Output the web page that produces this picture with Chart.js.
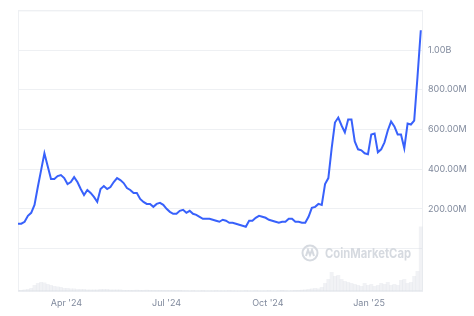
<!DOCTYPE html>
<html>
<head>
<meta charset="utf-8">
<script src="https://cdn.jsdelivr.net/npm/chart.js@4.4.1/dist/chart.umd.min.js"></script>
<style>
  html, body { margin: 0; background: #fff; }
  #wrap { width: 474px; height: 316px; }
</style>
</head>
<body>
<div id="wrap"><canvas id="chart"></canvas></div>
<script>
// price in millions USD, one reading every 3 days starting 17 Feb 2024
const price = [
  125,125,135,165,180,220,310,395,480,415,
  350,350,365,370,355,325,335,360,335,300,
  270,295,280,260,235,300,315,300,310,335,
  355,345,330,305,295,280,280,250,235,225,
  225,210,225,230,220,200,185,175,175,190,
  195,180,190,175,170,160,150,150,150,145,
  140,135,145,140,130,130,125,120,115,110,
  140,140,155,165,160,155,145,140,135,130,
  135,135,150,150,135,135,130,130,160,205,
  210,225,220,325,355,505,635,660,620,585,
  650,650,540,500,495,480,475,575,580,485,
  500,535,595,640,615,575,575,505,630,625,
  645,865,1100
];

// volume (millions USD), same dates
const volume = [
  10,10,15,20,30,
  60,80,90,85,70,60,50,45,40,30,
  30,25,25,20,20,20,15,15,15,15,
  20,20,20,15,15,15,15,10,10,10,
  10,12,10,10,12,10,10,10,8,8,8,8,8,8,8,
  6,6,5,6,5,5,6,5,5,5,6,5,5,5,6,5,5,5,5,6,5,5,6,5,5,5,6,5,5,6,8,6,5,6,8,
  10,12,15,20,25,30,25,40,
  80,120,190,150,160,120,100,
  90,80,70,60,50,80,60,70,50,60,
  80,70,90,60,70,60,110,120,80,90,150,
  200,650
];

const stepDays = 3;
const xTickDays = [44, 135, 227, 319];
const xTickLabels = ["Apr '24", "Jul '24", "Oct '24", "Jan '25"];
const yTicks = [200, 400, 600, 800, 1000];

const pricePoints = price.map((v, i) => ({ x: i * stepDays, y: v * 1e6 }));
const volumePoints = volume.map((v, i) => ({ x: i * stepDays, y: v * 1e6 }));

const fontFamily = 'Inter, "Noto Sans", sans-serif';
const gridColor = '#eef0f3';

const frame = {
  id: 'frame',
  beforeDatasetsDraw(chart) {
    const { ctx, chartArea: a } = chart;
    ctx.save();
    ctx.strokeStyle = gridColor;
    ctx.lineWidth = 1;
    ctx.strokeRect(a.left + 0.5, a.top + 0.5, a.right - a.left - 1, a.bottom - a.top - 1);

    // watermark
    const cx = 310, cy = 253;
    ctx.strokeStyle = '#d6dae0';
    ctx.lineWidth = 2;
    ctx.beginPath();
    ctx.arc(cx, cy, 7.5, 0, Math.PI * 2);
    ctx.stroke();
    ctx.beginPath();
    ctx.moveTo(cx - 4, cy + 3);
    ctx.lineTo(cx - 2, cy - 3);
    ctx.lineTo(cx, cy + 2);
    ctx.lineTo(cx + 2, cy - 3);
    ctx.lineTo(cx + 4, cy + 3);
    ctx.stroke();
    ctx.fillStyle = '#d6dae0';
    ctx.font = 'bold 13px ' + fontFamily;
    ctx.textBaseline = 'middle';
    ctx.fillText('CoinMarketCap', 325, cy + 1, 86);
    ctx.restore();
  }
};

new Chart(document.getElementById('chart'), {
  type: 'line',
  data: {
    datasets: [{
      type: 'line',
      data: pricePoints,
      yAxisID: 'y',
      borderColor: '#3861fb',
      borderWidth: 2,
      pointRadius: 0,
      tension: 0,
      order: 0
    }, {
      type: 'bar',
      data: volumePoints,
      yAxisID: 'yv',
      backgroundColor: 'rgba(215, 219, 225, 0.35)',
      barPercentage: 1,
      categoryPercentage: 1,
      order: 1
    }]
  },
  plugins: [frame],
  options: {
    responsive: true,
    maintainAspectRatio: false,
    animation: false,
    layout: { padding: { left: 18, top: 7, right: 0, bottom: 0 } },
    plugins: {
      legend: { display: false },
      tooltip: { enabled: false }
    },
    scales: {
      x: {
        type: 'linear',
        offset: false,
        min: 0,
        max: 368,
        grid: { display: false, drawTicks: false },
        border: { display: false },
        afterBuildTicks(scale) {
          scale.ticks = xTickDays.map(d => ({ value: d }));
        },
        ticks: {
          autoSkip: false,
          maxRotation: 0,
          padding: 7,
          color: '#808a9d',
          font: { family: fontFamily, size: 9 },
          callback: (v) => xTickLabels[xTickDays.indexOf(v)]
        }
      },
      y: {
        position: 'right',
        min: -215e6,
        max: 1200e6,
        grid: { color: gridColor, drawTicks: false },
        border: { display: false },
        afterBuildTicks(scale) {
          scale.ticks = [-215e6, 0, 200e6, 400e6, 600e6, 800e6, 1000e6, 1200e6].map(v => ({ value: v }));
        },
        afterFit(scale) { scale.width = 51; },
        ticks: {
          padding: 5,
          color: '#808a9d',
          font: { family: fontFamily, size: 9 },
          callback: (v) => {
            const m = v / 1e6;
            if (!yTicks.includes(m)) return '';
            return m >= 1000 ? (m / 1000).toFixed(2) + 'B' : m.toFixed(2) + 'M';
          }
        }
      },
      yv: {
        display: false,
        min: 0,
        max: 2840e6
      }
    }
  }
});
</script>
</body>
</html>
